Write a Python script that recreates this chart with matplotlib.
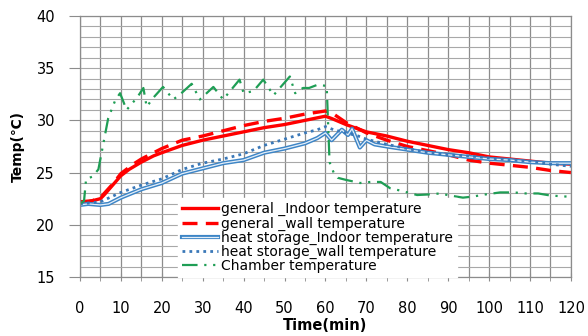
import matplotlib
matplotlib.use("Agg")
import matplotlib.pyplot as plt
import matplotlib.patheffects as pe

# general_Indoor temperature
t_gi = [0, 3, 5, 6, 8, 10, 12, 15, 18, 20, 25, 30, 35, 40, 45, 50, 55, 60, 62, 65,
        70, 75, 80, 85, 90, 95, 100, 105, 110, 115, 120]
gen_indoor = [22.2, 22.3, 22.5, 22.9, 23.8, 24.7, 25.3, 26.0, 26.6, 26.9, 27.6, 28.1,
              28.5, 28.9, 29.3, 29.6, 30.0, 30.4, 30.1, 29.6, 28.9, 28.5, 28.0, 27.6,
              27.2, 26.9, 26.5, 26.3, 26.1, 25.9, 25.8]

# general_wall temperature
t_gw = [0, 3, 5, 8, 10, 13, 15, 20, 25, 30, 35, 40, 45, 50, 55, 60, 62, 65, 70, 75,
        80, 85, 90, 95, 100, 105, 110, 115, 120]
gen_wall = [22.0, 22.3, 22.6, 23.9, 24.9, 25.8, 26.3, 27.3, 28.1, 28.5, 29.0, 29.5,
            29.9, 30.2, 30.6, 30.9, 30.6, 29.8, 28.8, 28.1, 27.5, 27.1, 26.7, 26.2,
            25.9, 25.7, 25.5, 25.2, 25.0]

# heat storage_Indoor temperature
t_hi = [0, 2, 5, 7, 10, 15, 20, 25, 30, 35, 40, 45, 50, 55, 58, 60, 61.5, 64, 65.5,
        66.5, 68.4, 70, 72, 75, 80, 85, 90, 95, 100, 105, 110, 115, 120]
hs_indoor = [21.9, 22.0, 21.9, 22.0, 22.6, 23.4, 24.0, 24.9, 25.4, 25.9, 26.2, 26.9,
             27.3, 27.8, 28.3, 28.8, 28.1, 29.1, 28.6, 29.2, 27.4, 28.1, 27.7, 27.5,
             27.2, 26.9, 26.7, 26.5, 26.3, 26.2, 26.0, 25.9, 25.9]

# heat storage_wall temperature
t_hw = [0, 5, 10, 15, 20, 25, 30, 35, 40, 45, 50, 55, 58, 60, 62, 65, 68, 70, 75, 80,
        85, 90, 95, 100, 105, 110, 115, 120]
hs_wall = [22.0, 22.2, 23.1, 23.8, 24.4, 25.3, 25.9, 26.3, 26.8, 27.6, 28.2, 28.8,
           29.1, 29.4, 29.1, 28.8, 28.5, 28.2, 27.7, 27.3, 26.9, 26.7, 26.6, 26.4,
           26.2, 26.1, 25.8, 25.6]

# Chamber temperature
t_ch = [0, 1, 1.5, 3, 4.5, 6.9, 8.6, 9.8, 11.4, 14, 15.5, 16.3, 18, 20.3, 22.8, 24.5,
        27.3, 29.3, 32.6, 35, 39, 40, 42.4, 44.8, 47.3, 51.3, 52.6, 54.5, 56, 58, 60.3,
        61, 62, 63, 65, 68.5, 71, 73.5, 75.8, 78, 80, 82.4, 85, 88, 90.5, 93.6, 96, 99,
        102.7, 106, 109, 112, 115, 119]
chamber = [22.0, 22.3, 24.4, 24.6, 25.3, 30.2, 31.9, 32.6, 31.0, 32.2, 33.1, 31.3,
           32.2, 33.2, 32.0, 32.5, 33.5, 32.0, 33.2, 32.0, 33.9, 32.6, 32.8, 33.9, 32.4,
           34.2, 32.6, 33.1, 33.1, 33.4, 33.3, 26.0, 25.0, 24.5, 24.3, 24.0, 24.1, 24.1,
           23.5, 23.3, 23.1, 22.85, 22.9, 23.0, 22.8, 22.6, 22.7, 22.9, 23.1, 23.1, 23.0,
           23.0, 22.8, 22.7]

x_ticks = list(range(0, 121, 10))
y_ticks = list(range(15, 41, 5))

fig = plt.figure(figsize=(5.88, 3.36), dpi=100)
ax = fig.add_axes([0.136, 0.1756, 0.835, 0.777])

ax.plot(t_gi, gen_indoor, color='#ff0000', lw=2.4, label='general _Indoor temperature')
ax.plot(t_gw, gen_wall, color='#ff0000', lw=2.4, ls=(0, (4.5, 2.5)),
        label='general _wall temperature')
ax.plot(t_hi, hs_indoor, color='#e4eef8', lw=0.9,
        path_effects=[pe.Stroke(linewidth=3.0, foreground='#3d85c6'), pe.Normal()],
        label='heat storage_Indoor temperature')
ax.plot(t_hw, hs_wall, color='#3a78b8', lw=2.0, ls=(0, (1, 1.5)),
        label='heat storage_wall temperature')
ax.plot(t_ch, chamber, color='#1f9e55', lw=1.6, ls=(0, (7, 3, 1, 3, 1, 3)),
        label='Chamber temperature')

ax.set_xlim(0, 120)
ax.set_ylim(15, 40)
ax.set_xticks(x_ticks)
ax.set_xticks(range(0, 121, 5), minor=True)
ax.set_yticks(y_ticks)
ax.set_yticks(range(15, 41), minor=True)
ax.grid(True, which='both', axis='x', color='#8c8c8c', lw=0.9)
ax.grid(True, which='both', axis='y', color='#a8a8a8', lw=0.8)
ax.set_axisbelow(True)
for s in ax.spines.values():
    s.set_color('#8c8c8c')
    s.set_linewidth(0.9)

ax.tick_params(axis='x', which='both', direction='inout', length=6, color='#8c8c8c',
               labelsize=10.5, pad=14)
ax.tick_params(axis='y', which='major', direction='out', length=8, color='#8c8c8c',
               labelsize=10.5, pad=10)
ax.tick_params(axis='y', which='minor', length=0)

ax.set_xlabel('Time(min)', fontsize=10.5, fontweight='bold', labelpad=2)
ax.set_ylabel('Temp(\u2103)', fontsize=10, fontweight='bold', labelpad=8)

leg = ax.legend(loc='lower left', bbox_to_anchor=(0.2, 0.0),
                handlelength=2.6, handletextpad=0.2, labelspacing=0.0,
                borderpad=0.3, borderaxespad=0.0, frameon=True, fancybox=False,
                prop={'family': 'DejaVu Sans', 'size': 10})
leg.get_frame().set_facecolor('white')
leg.get_frame().set_edgecolor('white')
leg.get_frame().set_alpha(1)

fig.savefig('out.png', dpi=100)
